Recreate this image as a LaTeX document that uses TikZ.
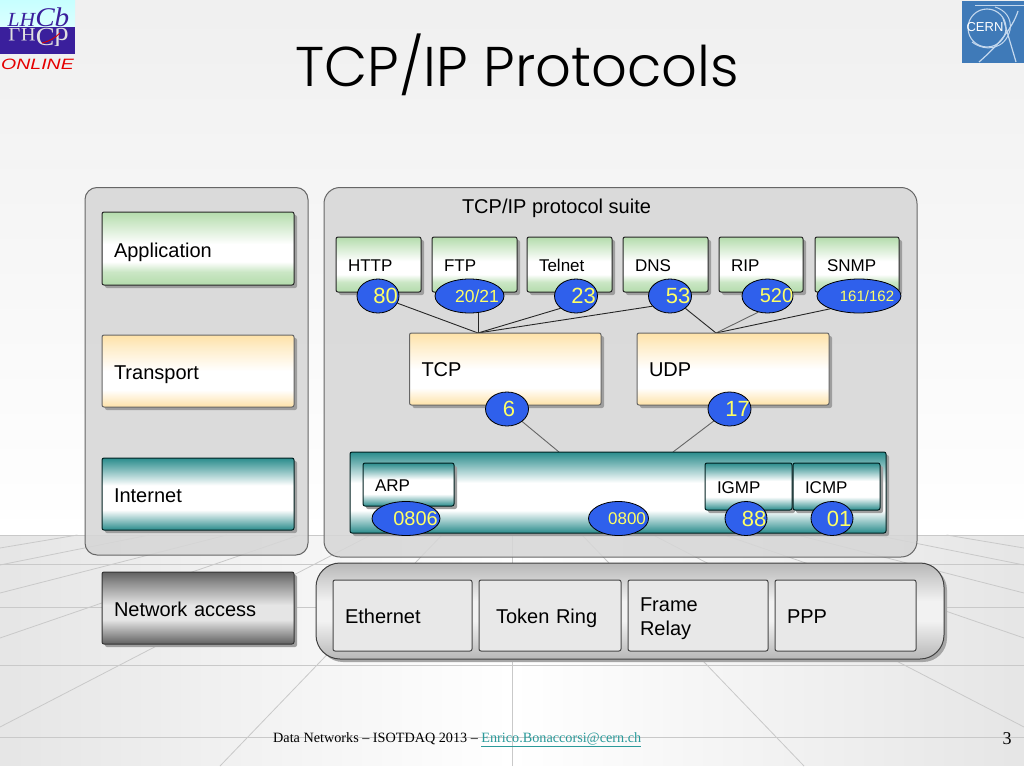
\documentclass[tikz,border=0pt]{standalone}
\usepackage{fontspec}
\usetikzlibrary{shapes.geometric,shadows}
\setmainfont{Liberation Sans}
\newfontfamily\serifface{Liberation Serif}
\newfontfamily\titleface{Poppins}[UprightFont=* Light]
\definecolor{portblue}{HTML}{2F60EC}
\definecolor{portyellow}{HTML}{FFFF66}
\definecolor{greenedge}{HTML}{B4DCAC}
\definecolor{yellowedge}{HTML}{FEE2A8}
\definecolor{tealedge}{HTML}{2A8C8C}
\definecolor{panelgray}{HTML}{D6D6D6}
\definecolor{floorline}{HTML}{C9C9C9}
\definecolor{maillink}{HTML}{2A9A9A}
\definecolor{purplelogo}{HTML}{3A1F9C}
\definecolor{cernblue}{HTML}{3F7AB8}
\definecolor{cernline}{HTML}{C4D8EE}
\pgfdeclareverticalshading{greenbar}{100bp}{color(0bp)=(greenedge); color(25bp)=(greenedge); color(34bp)=(greenedge!70!white); color(41bp)=(white); color(53bp)=(white); color(65bp)=(greenedge!55!white); color(75bp)=(greenedge); color(100bp)=(greenedge)}
\pgfdeclareverticalshading{yellowbar}{100bp}{color(0bp)=(yellowedge); color(25bp)=(yellowedge); color(37bp)=(white); color(50bp)=(white); color(66bp)=(yellowedge!60!white); color(75bp)=(yellowedge); color(100bp)=(yellowedge)}
\pgfdeclareverticalshading{tealbar}{100bp}{color(0bp)=(tealedge); color(25bp)=(tealedge); color(39bp)=(white); color(56bp)=(white); color(68bp)=(tealedge!65!white); color(75bp)=(tealedge); color(100bp)=(tealedge)}
\pgfdeclareverticalshading{graybar}{100bp}{color(0bp)=(black!62); color(25bp)=(black!62); color(42bp)=(black!10); color(52bp)=(black!10); color(68bp)=(black!45); color(75bp)=(black!62); color(100bp)=(black!62)}
\pgfdeclareverticalshading{silverbar}{100bp}{color(0bp)=(black!28); color(25bp)=(black!28); color(45bp)=(black!5); color(55bp)=(black!5); color(75bp)=(black!28); color(100bp)=(black!28)}
\pgfdeclarelayer{bg}
\pgfdeclarelayer{conn}
\pgfsetlayers{bg,conn,main}
\newcommand{\fsz}[1]{\fontsize{#1}{24}\selectfont}
\newcommand{\lbox}[7]{%
  \pgfmathsetmacro{\bw}{#5-#3}\pgfmathsetmacro{\bh}{#6-#4}%
  \pgfmathsetmacro{\bcx}{(#3+#5)/2}\pgfmathsetmacro{\bcy}{(#4+#6)/2}%
  \pgfmathsetmacro{\btw}{#5-#3-24}%
  \node[#1,minimum width=\bw pt,minimum height=\bh pt,text width=\btw pt] (#2) at (\bcx,\bcy) {#7};}
\newcommand{\portn}[7]{%
  \pgfmathsetmacro{\pdia}{2*#4}\pgfmathsetmacro{\pshift}{2*#5}%
  \node[portoval,minimum width=\pdia pt] (#1) at (#2,#3) {\fontsize{#6}{#6}\selectfont\makebox[0pt][c]{\hspace*{\pshift pt}#7}};}
\tikzset{
  x=1pt,y=-1pt,
  basebox/.style={draw,rounded corners=2pt,line width=1pt,inner xsep=12pt,inner ysep=0pt,align=left,text depth=0pt,
    drop shadow={shadow xshift=3pt,shadow yshift=-3pt,fill=black!38,opacity=1}},
  greenbox/.style={basebox,draw=black!85,shading=greenbar,font=\fsz{17},text height=13pt},
  greenlarge/.style={greenbox,font=\fsz{20},text height=17pt},
  yellowbox/.style={basebox,draw=black!60,shading=yellowbar,font=\fsz{20},text height=17pt},
  tealbox/.style={basebox,draw=black!75!teal,shading=tealbar,font=\fsz{17},text height=14pt},
  teallarge/.style={tealbox,font=\fsz{20},text height=17pt},
  graybox/.style={basebox,draw=black!80,shading=graybar,font=\fsz{20},text height=17pt},
  flatbox/.style={draw=black!72,fill=black!9,rounded corners=2pt,line width=1pt,inner xsep=12pt,inner ysep=0pt,align=left,font=\fsz{20},text height=15pt,text depth=0pt},
  outerpanel/.style={draw=black!60,fill=panelgray,fill opacity=.86,line width=1pt,minimum height=0pt},
  portoval/.style={ellipse,draw=black,fill=portblue,text=portyellow,inner sep=0pt,line width=.8pt,minimum height=34pt},
  wire/.style={draw=black!85,line width=.9pt},
  softwire/.style={draw=black!60,line width=.9pt},
  floorstroke/.style={draw=floorline,line width=.8pt},
}
\begin{document}
\begin{tikzpicture}
\useasboundingbox (0,0) rectangle (1024,768);
\begin{pgfonlayer}{bg}
  % slide background
  \shade[top color=black!6,bottom color=white] (0,0) rectangle (1024,536);
  \shade[left color=black!10,right color=black!10,middle color=white] (0,535) rectangle (1024,766);
  \fill[white] (0,766) rectangle (1024,768);
  \foreach \yy in {535,564,607,665,737} \draw[floorstroke] (0,\yy) -- (1024,\yy);
  \foreach \yy in {548,565,593,638,727}{
    \pgfmathsetmacro{\xh}{512/(\yy-462)*(\yy-535)}
    \pgfmathsetmacro{\xr}{1024-\xh}
    \draw[floorstroke] (0,\yy) -- (\xh,535);
    \draw[floorstroke] (1024,\yy) -- (\xr,535);
  }
  \draw[floorstroke] (220,766) -- (442,535);
  \draw[floorstroke] (804,766) -- (582,535);
  \draw[floorstroke] (512,766) -- (512,535);
  % panels
  \draw[outerpanel,rounded corners=12pt] (85,187.5) rectangle (308,555);
  \draw[outerpanel,rounded corners=16pt] (324,187.5) rectangle (917,557);
\end{pgfonlayer}

% LHCb logo
\shade[top color=cyan!22!white,bottom color=cyan!14!white] (0,0) rectangle (75,27);
\fill[purplelogo] (0,27) rectangle (75,54);
\node[inner sep=0pt,text=purplelogo,font=\serifface\itshape,xscale=1.08] (lhcbtext) at (38.5,17) {\fontsize{20}{20}\selectfont LH\fontsize{27}{27}\selectfont Cb};
\node[inner sep=0pt,text=black!12,font=\serifface,yscale=-1,xscale=1.08] (lhcbmirror) at (38.5,37) {\fontsize{19}{19}\selectfont LH\fontsize{26}{26}\selectfont Cb};
\draw[red!85!black,line width=.9pt] (42,43) .. controls (50,41) and (55,38) .. (60,33);
\node[inner sep=0pt,text=red!90!black,font=\itshape,xscale=1.3] (onlinetext) at (37.5,64) {\fontsize{15}{15}\selectfont ONLINE};

% CERN logo
\fill[cernblue] (962,1) rectangle (1024,63);
\draw[cernline,line width=1pt] (975,6) -- (1024,6);
\draw[cernline,line width=1.1pt] (987,28) circle (19);
\draw[cernline,line width=1pt] (972,42) .. controls (985,52) and (1005,50) .. (1010,30) .. controls (1012,18) and (1005,10) .. (995,7);
\draw[cernline,line width=1.2pt] (979,62) .. controls (995,48) and (1012,30) .. (1018,11);
\draw[cernline,line width=1.2pt] (1016,62) -- (1003,18);
\node[inner sep=0pt,text=white] (cernname) at (985,27) {\fontsize{13}{13}\selectfont CERN};

% title
\node[inner sep=0pt,font=\titleface] (title) at (517,65) {\fontsize{56}{56}\selectfont TCP/IP Protocols};

% layer column
\lbox{greenlarge}{app}{102}{212}{294}{285}{Application}
\lbox{yellowbox}{trans}{102}{335}{294}{407}{Transport}
\lbox{teallarge}{inet}{102}{458}{294}{530}{Internet}
\lbox{graybox}{netacc}{102}{572}{294}{644}{Network access}

% suite
\node[inner sep=0pt,font=\fsz{20}] (suite) at (556.5,208.5) {TCP/IP protocol suite};
\lbox{greenbox}{http}{336}{237}{421}{292}{HTTP}
\lbox{greenbox}{ftp}{432}{237}{517}{292}{FTP}
\lbox{greenbox}{telnet}{527}{237}{612}{292}{Telnet}
\lbox{greenbox}{dns}{623}{237}{708}{292}{DNS}
\lbox{greenbox}{rip}{719}{237}{803}{292}{RIP}
\lbox{greenbox}{snmp}{815}{237}{899}{292}{SNMP}
\lbox{yellowbox,text height=14pt}{tcp}{409.5}{333}{601}{405}{TCP}
\lbox{yellowbox,text height=14pt}{udp}{637}{333}{829}{405}{UDP}

% internet bar
\lbox{tealbox}{ipbar}{350}{452}{886}{533}{}
\lbox{tealbox}{arp}{363}{463}{454}{506}{ARP}
\lbox{tealbox}{igmp}{705}{463}{792}{510}{IGMP}
\lbox{tealbox}{icmp}{793}{463}{880}{510}{ICMP}

% ports
\portn{pA}{378}{296}{21}{7.5}{22}{80}
\portn{pB}{469.5}{296}{34.5}{7.5}{17.5}{20/21}
\portn{pC}{576}{296}{21.5}{7.5}{22}{23}
\portn{pD}{670}{296}{21.5}{8}{22}{53}
\portn{pE}{767.5}{296}{25.5}{9}{20}{520}
\portn{pF}{859}{296}{42}{8}{15}{161/162}
\portn{pG}{507}{409}{21.5}{2}{22}{6}
\portn{pH}{729.5}{409}{21.5}{8}{22}{17}
\portn{pI}{406}{518.5}{34}{9.5}{20}{0806}
\portn{pJ}{618.5}{518.5}{30}{8.5}{17}{0800}
\portn{pK}{746}{518.5}{21}{8}{22}{88}
\portn{pL}{832}{518.5}{21}{7}{22}{01}

% connectors
\coordinate (tcptop) at (478,333);
\coordinate (udptop) at (716,333);
\coordinate (barleft) at (559,452);
\coordinate (barright) at (673,452);
\begin{pgfonlayer}{conn}
  \draw[wire] (pA) -- (tcptop);
  \draw[wire] (pB.south -| tcptop) -- (tcptop);
  \draw[wire] (pC.south west) -- (tcptop);
  \draw[wire] (pD.210) -- (tcptop);
  \draw[wire] (pD) -- (udptop);
  \draw[softwire] (pE.240) -- (udptop);
  \draw[wire] (pF.204) -- (udptop);
  \draw[softwire] (pG) -- (barleft);
  \draw[softwire] (pH) -- (barright);
\end{pgfonlayer}

% network access panel
\node[draw=black!75,shading=silverbar,rounded corners=24pt,line width=1pt,minimum width=628pt,minimum height=96pt,inner sep=0pt,
  drop shadow={shadow xshift=3pt,shadow yshift=-3pt,fill=black!35,opacity=1}] (netpanel) at (630,611) {};
\lbox{flatbox}{eth}{333}{580}{472}{651}{Ethernet}
\lbox{flatbox}{token}{479}{580}{621}{651}{\hspace*{5pt}Token Ring}
\lbox{flatbox,text height=0pt,text depth=9pt}{frame}{628}{580}{768}{651}{Frame\\Relay}
\lbox{flatbox}{ppp}{775}{580}{916}{651}{PPP}

% footer
\node[anchor=west,inner sep=0pt,font=\serifface\fontsize{14.2}{16}\selectfont] (footer) at (273,740) {Data Networks – ISOTDAQ 2013 – \textcolor{maillink}{\underline{Enrico.Bonaccorsi@cern.ch}}};
\node[inner sep=0pt,font=\serifface\fontsize{18}{20}\selectfont] (pagenum) at (1007,739) {3};
\end{tikzpicture}
\end{document}
